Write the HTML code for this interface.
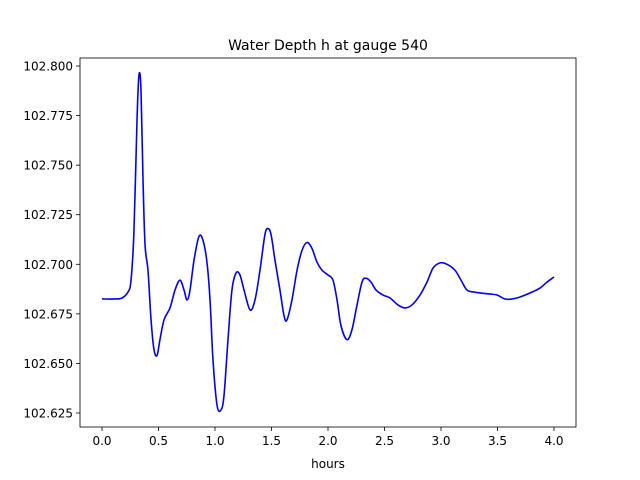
<!DOCTYPE html>
<html><head><meta charset="utf-8"><style>
body{margin:0;background:#fff;}
svg{display:block;font-family:"DejaVu Sans","Liberation Sans",sans-serif;}
</style></head><body>
<svg id="chart" width="640" height="480">
<rect x="0" y="0" width="640" height="480" fill="#fff"/>
<text x="328" y="50" text-anchor="middle" font-size="14">Water Depth h at gauge 540</text>
<g id="axes"></g>
<text x="328" y="468" text-anchor="middle" font-size="12">hours</text>
</svg>
<script>
const hours=[0,0.115,0.177,0.23,0.257,0.283,0.31,0.327,0.345,0.363,0.381,0.407,0.434,0.46,0.487,0.513,0.549,0.602,0.646,0.69,0.726,0.752,0.779,0.814,0.858,0.894,0.929,0.956,0.982,1.018,1.053,1.08,1.115,1.15,1.186,1.221,1.257,1.31,1.354,1.398,1.442,1.469,1.496,1.531,1.575,1.611,1.637,1.681,1.726,1.77,1.814,1.858,1.903,1.947,2.0,2.044,2.08,2.115,2.168,2.212,2.257,2.301,2.336,2.381,2.425,2.487,2.549,2.619,2.681,2.743,2.814,2.876,2.929,2.991,3.053,3.124,3.177,3.23,3.292,3.354,3.434,3.496,3.566,3.628,3.699,3.788,3.876,3.938,4.0];
const depth=[102.6825,102.6825,102.683,102.686,102.692,102.717,102.773,102.7955,102.788,102.7425,102.7097,102.697,102.672,102.657,102.654,102.662,102.672,102.678,102.687,102.692,102.687,102.682,102.687,102.702,102.714,102.712,102.701,102.682,102.652,102.629,102.6265,102.634,102.662,102.687,102.6956,102.6946,102.687,102.677,102.682,102.697,102.715,102.718,102.715,102.702,102.687,102.674,102.672,102.682,102.697,102.707,102.711,102.708,102.701,102.697,102.6946,102.692,102.682,102.669,102.662,102.667,102.6795,102.691,102.693,102.691,102.687,102.6845,102.683,102.6795,102.678,102.6795,102.6845,102.691,102.698,102.7007,102.7,102.697,102.692,102.687,102.686,102.6855,102.685,102.6845,102.6825,102.6825,102.6835,102.6855,102.688,102.691,102.6936];
const xTicks=[0,0.5,1,1.5,2,2.5,3,3.5,4];
const xTickLabels=["0.0","0.5","1.0","1.5","2.0","2.5","3.0","3.5","4.0"];
const yTicks=[102.625,102.65,102.675,102.7,102.725,102.75,102.775,102.8];
const yTickLabels=["102.625","102.650","102.675","102.700","102.725","102.750","102.775","102.800"];

const NS="http://www.w3.org/2000/svg";
const L=80,R=576,T=58,B=427;
const sx=v=>102+(v-0)*(554-102)/4;
const sy=v=>413-(v-102.625)*(413-66)/0.175;
const g=document.getElementById('axes');
function mk(tag,attrs){const e=document.createElementNS(NS,tag);for(const k in attrs)e.setAttribute(k,attrs[k]);g.appendChild(e);return e;}
xTicks.forEach((t,i)=>{
  const l=mk('line',{x1:sx(t),x2:sx(t),y1:B,y2:B+4,stroke:'#000','stroke-width':0.8});
  
  
  const tx=mk('text',{x:sx(t),y:B+18,'text-anchor':'middle','font-size':12});
  tx.textContent=xTickLabels[i];
  
  
});
yTicks.forEach((t,i)=>{
  const l=mk('line',{x1:L-4,x2:L,y1:sy(t),y2:sy(t),stroke:'#000','stroke-width':0.8});
  
  
  const tx=mk('text',{x:L-7,y:sy(t)+4.5,'text-anchor':'end','font-size':12});
  tx.textContent=yTickLabels[i];
  
  
});
const pts=hours.map((h,i)=>[sx(h),sy(depth[i])]);
let d='M'+pts[0][0]+','+pts[0][1];
for(let i=0;i<pts.length-1;i++){
  const p0=pts[Math.max(0,i-1)],p1=pts[i],p2=pts[i+1],p3=pts[Math.min(pts.length-1,i+2)];
  const c1=[p1[0]+(p2[0]-p0[0])/6,p1[1]+(p2[1]-p0[1])/6];
  const c2=[p2[0]-(p3[0]-p1[0])/6,p2[1]-(p3[1]-p1[1])/6];
  d+=`C${c1[0]},${c1[1]} ${c2[0]},${c2[1]} ${p2[0]},${p2[1]}`;
}
const line=mk('path',{d:d,fill:'none',stroke:'#0000ff','stroke-width':1.6,'stroke-linejoin':'round'});


const frame=mk('rect',{x:L,y:T,width:R-L,height:B-T,fill:'none',stroke:'#000','stroke-width':0.8});


</script>
</body></html>
